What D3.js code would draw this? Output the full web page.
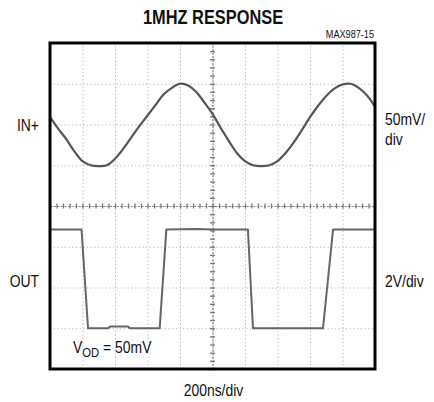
<!DOCTYPE html>
<html><head><meta charset="utf-8">
<script src="https://cdn.jsdelivr.net/npm/d3@7/dist/d3.min.js"></script>
<style>
html,body{margin:0;padding:0;background:#fff;}
text{font-family:'Liberation Sans',Arial,sans-serif;fill:#111;}
</style></head>
<body>
<svg id="c" width="434" height="402"></svg>
<script>
// time axis in ns (200ns/div, 10 div)
const timeDomain = [0, 2000];
const divDomain = [-4, 4];           // vertical divisions
const gridX = d3.range(0, 2001, 200);
const gridY = d3.range(-4, 4.01, 1);
const minorX = d3.range(0, 2001, 40);
const minorY = d3.range(-4, 4.01, 0.2);

// IN+ trace (mV), 50mV/div, centred 2 div above screen centre
const inTime = d3.range(0, 2001, 50);
const inMv = [9, -5, -18, -33, -45, -50, -51, -50, -42, -30,
              -16, -2, 11, 24, 37, 45, 50, 48, 40, 27,
              13, -4, -20, -35, -45, -50, -51, -50, -45, -35,
              -22, -7, 9, 23, 35, 44, 49, 50, 45, 36, 22];
const inOffsetDiv = 2, inScale = 50;

// OUT trace (V), 2V/div, 0V at -3 div
const outTime = [0, 194, 234, 357, 370, 480, 492, 675, 716, 900, 1000, 1218, 1249, 1680, 1742, 2000];
const outV    = [4.85, 4.85, 0, 0, 0.08, 0.08, 0, 0, 4.85, 4.87, 4.85, 4.85, 0, 0, 4.85, 4.85];
const outOffsetDiv = -3, outScale = 2;

const svg = d3.select('#c');
const L = 50, R = 375, T = 43, B = 369;
const x = d3.scaleLinear().domain(timeDomain).range([L, R]);
const y = d3.scaleLinear().domain(divDomain).range([B, T]);

// grid
const gx = svg.append('g').attr('transform', `translate(0,${B})`)
  .call(d3.axisBottom(x).tickValues(gridX).tickSize(-(B - T)).tickFormat(''));
const gy = svg.append('g').attr('transform', `translate(${L},0)`)
  .call(d3.axisLeft(y).tickValues(gridY).tickSize(-(R - L)).tickFormat(''));
[gx, gy].forEach(g => {
  g.select('.domain').remove();
  g.selectAll('line').attr('stroke', '#b4b4b4').attr('stroke-width', 1).attr('stroke-dasharray', '1.2,2.5');
});

// centre axes with minor ticks
const cx = svg.append('g').attr('transform', `translate(0,${y(0) - 2.5})`)
  .call(d3.axisBottom(x).tickValues(minorX).tickSize(5).tickSizeOuter(0).tickFormat(''));
const cy = svg.append('g').attr('transform', `translate(${x(1000) + 2.5},0)`)
  .call(d3.axisLeft(y).tickValues(minorY).tickSize(5).tickSizeOuter(0).tickFormat(''));
cx.select('.domain').attr('transform', 'translate(0,2.5)');
cy.select('.domain').attr('transform', 'translate(-2.5,0)');
[cx, cy].forEach(g => {
  g.select('.domain').attr('stroke', '#888').attr('stroke-width', 1.2).attr('stroke-dasharray', '2,1.5');
  g.selectAll('line').attr('stroke', '#777').attr('stroke-width', 1.3);
});

// traces
const lineIn = d3.line().curve(d3.curveCatmullRom)
  .x((d, i) => x(inTime[i])).y(d => y(inOffsetDiv + d / inScale));
svg.append('path').datum(inMv).attr('d', lineIn)
  .attr('fill', 'none').attr('stroke', '#555').attr('stroke-width', 2.2);

const lineOut = d3.line()
  .x((d, i) => x(outTime[i])).y(d => y(outOffsetDiv + d / outScale));
svg.append('path').datum(outV).attr('d', lineOut)
  .attr('fill', 'none').attr('stroke', '#666').attr('stroke-width', 2).attr('stroke-linejoin', 'round');

// frame
svg.append('rect').attr('x', L).attr('y', T).attr('width', R - L).attr('height', B - T)
  .attr('fill', 'none').attr('stroke', '#000').attr('stroke-width', 3);

// texts (narrow face emulated by horizontal scaling)
function label(tx, ty, str, size, anchor, weight, sx) {
  return svg.append('text')
    .attr('transform', `translate(${tx},${ty}) scale(${sx},1)`)
    .attr('text-anchor', anchor || 'start')
    .attr('font-size', size)
    .attr('font-weight', weight || 'normal')
    .text(str);
}
label(213, 24, '1MHZ RESPONSE', 20, 'middle', 'bold', 0.82);
label(374, 38, 'MAX987-15', 10.5, 'end', 'normal', 0.87);
label(39, 131, 'IN+', 16, 'end', 'normal', 0.87);
label(39, 287, 'OUT', 16, 'end', 'normal', 0.87);
label(385, 125, '50mV/', 16, 'start', 'normal', 0.87);
label(385, 145, 'div', 16, 'start', 'normal', 0.87);
label(385, 287, '2V/div', 16, 'start', 'normal', 0.87);
label(213.5, 396, '200ns/div', 16, 'middle', 'normal', 0.87);
const vod = label(73, 353, '', 16, 'start', 'normal', 0.87);
vod.append('tspan').text('V');
vod.append('tspan').attr('dy', 4).attr('font-size', 13).text('OD');
vod.append('tspan').attr('dy', -4).text(' = 50mV');
</script>
</body></html>
